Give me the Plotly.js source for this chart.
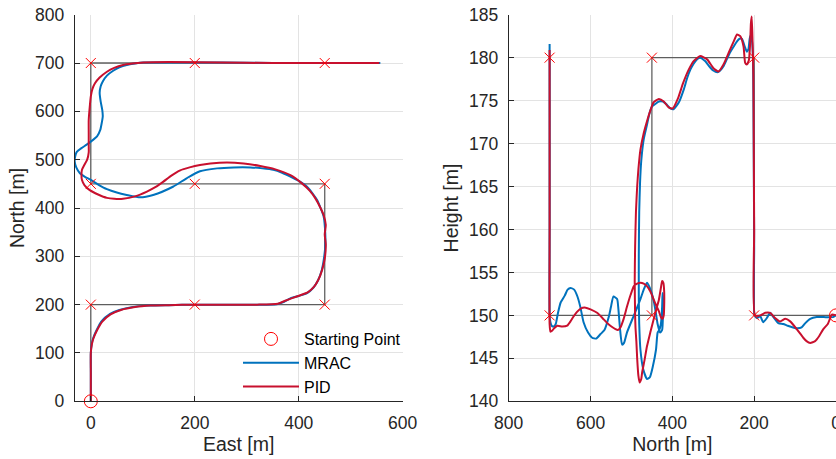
<!DOCTYPE html>
<html>
<head>
<meta charset="utf-8">
<script src="https://cdn.plot.ly/plotly-3.0.1.min.js"></script>
<style>html,body{margin:0;padding:0;background:#fff;}#chart{width:836px;height:459px;}</style>
</head>
<body>
<div id="chart"></div>
<script>
// ---------- Left panel: East vs North ----------
var refEast  = [0, 0, 450, 450, 0, 0, 450];
var refNorth = [0, 200, 200, 450, 450, 700, 700];
var wpEast   = [0, 200, 450, 450, 200, 0, 0, 200, 450];
var wpNorth  = [200, 200, 200, 450, 450, 450, 700, 700, 700];
var startEast = [0];
var startNorth = [0];

var mracEast = [0, 0, 0, 0, 2, 5, 11, 20, 37, 55, 81, 110, 150, 200, 260, 320, 358, 372, 384, 400,
  416, 428, 437, 444, 448, 451, 451, 448, 442, 435, 426, 416, 400, 384, 368, 351, 330, 307, 275, 243,
  210, 185, 158, 120, 95, 69, 50, 31, 15, 0, -12, -21, -28, -31, -30, -27, -18, -8, 3, 12,
  18, 21, 23, 22, 19, 17, 19, 23, 31, 43, 55, 69, 85, 101, 150, 250, 350, 450, 557];
var mracNorth = [0, 30, 60, 100, 120, 132, 147, 165, 181, 189, 195, 198, 199, 200, 200, 200, 201, 206, 213, 218,
  224, 235, 250, 270, 292, 320, 348, 382, 400, 417, 431, 444, 456, 465, 473, 479, 482, 484, 484, 482,
  476, 462, 444, 427, 422, 427, 432, 439, 448, 458, 465, 472, 484, 496, 507, 516, 524, 531, 540, 548,
  561, 576, 590, 603, 620, 638, 652, 662, 674, 684, 691, 696, 699, 701, 701, 701, 700, 700, 700];

var pidEast = [0, 0, 0, 0, 2, 5, 12, 22, 38, 58, 85, 115, 150, 200, 260, 320, 360, 374, 386, 402,
  418, 430, 438, 445, 450, 452, 450, 452, 448, 441, 432, 421, 405, 384, 355, 326, 294, 262, 230, 210,
  190, 172, 155, 139, 124, 108, 85, 62, 45, 31, 14, -2, -12, -17, -18, -17, -12, -7, -4, -4,
  -4, -4, -2, 0, 3, 8, 17, 31, 45, 62, 80, 101, 150, 250, 350, 450, 555];
var pidNorth = [0, 30, 60, 100, 118, 130, 147, 165, 180, 189, 195, 198, 199, 200, 200, 200, 202, 208, 213, 219,
  226, 238, 252, 272, 295, 325, 345, 365, 385, 402, 420, 436, 452, 468, 480, 487, 492, 494, 492, 489,
  484, 478, 467, 454, 443, 434, 424, 419, 419, 421, 428, 437, 447, 458, 469, 479, 490, 500, 515, 530,
  555, 582, 610, 631, 646, 658, 670, 682, 690, 696, 699, 701, 702, 701, 700, 700, 700];

// ---------- Right panel: North vs Height ----------
var refN = [0, 200, 200, 450, 450, 700, 700];
var refH = [150, 150, 180, 180, 150, 150, 180];
var wpN = [200, 200, 450, 450, 700, 700];
var wpH = [150, 180, 180, 150, 150, 180];
var startN = [0];
var startH = [150];

var mracN = [0, 7, 30, 47, 63, 75, 84, 95, 105, 118, 129, 141, 153, 161, 169, 178, 185, 193, 199, 200,
  201, 202, 203, 205, 208, 211, 214, 218, 223, 230, 236, 242, 250, 259, 267, 275, 283, 290, 300, 310,
  320, 332, 340, 348, 356, 364, 372, 384, 397, 405, 413, 423, 433, 442, 450, 456, 462, 470, 476, 479,
  481, 482, 482, 481, 478, 471, 462, 455, 448, 440, 436, 432, 428, 425, 424, 423, 423, 425, 430, 436,
  441, 446, 455, 462, 470, 478, 494, 511, 518, 523, 528, 532, 535, 544, 550, 555, 566, 576, 586, 596,
  606, 617, 625, 632, 640, 649, 656, 663, 673, 680, 685, 690, 695, 698, 700, 700, 700, 700];
var mracH = [150, 149.8, 149.8, 149.8, 149.6, 149.1, 148.6, 148.5, 148.6, 148.8, 149.0, 149.1, 149.8, 150.3, 149.7, 149.2, 149.9, 149.7, 150, 158,
  168, 176, 180, 181.8, 182.6, 182.2, 181, 180.7, 181.3, 182.2, 182.2, 181.9, 181.3, 180.6, 179.8, 179, 178.5, 178.3, 178.5, 179,
  179.6, 180, 179.8, 179.3, 178.6, 177.6, 176.3, 174.8, 174, 174.1, 174.5, 174.9, 174.9, 174.6, 174.3, 173.5, 172.2, 170.5, 168, 165.4,
  162, 157, 152, 149, 146, 143.7, 142.6, 142.8, 144, 146, 148, 148.3, 149, 151, 152.6, 152, 150, 148.3, 148, 149,
  150.5, 151.8, 153.2, 153.8, 153, 151.9, 150, 148, 146.8, 146.6, 148.5, 150.8, 151.9, 152.2, 151, 149.9, 148.3, 147.8, 147.3, 147.4,
  148, 149.2, 151, 152.2, 153, 153.2, 153, 152.3, 151.5, 150.2, 149, 148.7, 148.8, 149.2, 150, 160, 170, 181.6];

var pidN = [0, 10, 20, 31, 41, 51, 63, 72, 80, 96, 112, 124, 137, 149, 161, 173, 185, 198, 200, 201,
  202, 204, 206, 208, 210, 213, 218, 222, 226, 234, 242, 250, 262, 275, 287, 300, 315, 332, 348, 360,
  374, 386, 399, 409, 421, 433, 446, 454, 462, 470, 478, 483, 486, 489, 491, 492, 491, 490, 488, 486,
  483, 480, 476, 474, 468, 462, 454, 446, 440, 433, 428, 425, 422, 420, 420, 421, 424, 428, 433, 440,
  446, 454, 462, 470, 478, 486, 494, 502, 511, 519, 527, 533, 539, 549, 559, 571, 584, 600, 612, 624,
  633, 641, 649, 657, 669, 681, 689, 694, 698, 700, 700, 700, 700];
var pidH = [150, 150.1, 149, 148.4, 147.6, 147, 146.8, 147, 147.4, 148.4, 149.3, 149.6, 149.3, 149.7, 150.3, 150.3, 150, 150, 160, 170,
  178, 182, 184.8, 184, 181.5, 179.7, 179.2, 179.4, 181.3, 182.5, 182.7, 181.9, 180.6, 179.2, 178.4, 178.8, 179.8, 180.2, 179.6, 178.6,
  177, 175.3, 174.1, 174.2, 174.9, 175.2, 174.8, 173.8, 172.6, 171.2, 169.3, 167, 165, 162, 158, 154, 150, 148.5, 147, 145,
  143, 142.2, 142.6, 143.3, 144.8, 146.4, 148, 149.5, 150.6, 151.8, 153.2, 154, 153.8, 152.8, 151, 150, 149.6, 149.8, 150.5, 151.2,
  151.9, 152.8, 153.4, 153.7, 153.8, 153.7, 153.4, 152.4, 151, 149.6, 148.6, 148.3, 148.4, 148.7, 149.1, 149.7, 150.3, 150.7, 150.9, 150.8,
  150.4, 149.9, 149.3, 148.8, 148.7, 148.8, 148.5, 148.2, 148.1, 149, 160, 170, 180.9];

var C_MRAC = '#0072BD';
var C_PID = '#C8102E';
var C_REF = 'rgba(70,70,70,0.85)';
var C_WP = '#FF0000';

var traces = [
  {x: refEast, y: refNorth, xaxis: 'x', yaxis: 'y', mode: 'lines', line: {color: C_REF, width: 1.3}, showlegend: false, hoverinfo: 'skip'},
  {x: mracEast, y: mracNorth, xaxis: 'x', yaxis: 'y', mode: 'lines', name: 'MRAC', legendrank: 2, line: {color: C_MRAC, width: 2, shape: 'spline', smoothing: 0.6}},
  {x: pidEast, y: pidNorth, xaxis: 'x', yaxis: 'y', mode: 'lines', name: 'PID', legendrank: 3, line: {color: C_PID, width: 2, shape: 'spline', smoothing: 0.6}},
  {x: wpEast, y: wpNorth, xaxis: 'x', yaxis: 'y', mode: 'markers', showlegend: false, marker: {symbol: 'x-thin-open', size: 10, color: C_WP, line: {color: C_WP, width: 1}}},
  {x: startEast, y: startNorth, xaxis: 'x', yaxis: 'y', mode: 'markers', name: 'Starting Point', legendrank: 1, cliponaxis: false, marker: {symbol: 'circle-open', size: 13, color: C_WP, line: {color: C_WP, width: 1}}},

  {x: refN, y: refH, xaxis: 'x2', yaxis: 'y2', mode: 'lines', line: {color: C_REF, width: 1.3}, showlegend: false, hoverinfo: 'skip'},
  {x: mracN, y: mracH, xaxis: 'x2', yaxis: 'y2', mode: 'lines', showlegend: false, line: {color: C_MRAC, width: 2, shape: 'spline', smoothing: 0.5}},
  {x: pidN, y: pidH, xaxis: 'x2', yaxis: 'y2', mode: 'lines', showlegend: false, line: {color: C_PID, width: 2, shape: 'spline', smoothing: 0.5}},
  {x: wpN, y: wpH, xaxis: 'x2', yaxis: 'y2', mode: 'markers', showlegend: false, marker: {symbol: 'x-thin-open', size: 10, color: C_WP, line: {color: C_WP, width: 1}}},
  {x: startN, y: startH, xaxis: 'x2', yaxis: 'y2', mode: 'markers', showlegend: false, cliponaxis: false, marker: {symbol: 'circle-open', size: 13, color: C_WP, line: {color: C_WP, width: 1}}}
];

var FONT = 'Liberation Sans, Arial, Helvetica, sans-serif';
var TC = '#262626';
function axisBase(extra) {
  var a = {
    showline: true, linecolor: TC, linewidth: 1, mirror: false,
    ticks: 'inside', ticklen: 5, tickcolor: TC, tickwidth: 1,
    showgrid: true, gridcolor: '#E3E3E3', gridwidth: 1, zeroline: false,
    tickfont: {family: FONT, size: 17.5, color: TC},
    ticklabelstandoff: 6, ticklabeloverflow: 'allow', automargin: false
  };
  for (var k in extra) a[k] = extra[k];
  return a;
}

var layout = {
  width: 836, height: 459,
  margin: {l: 0, r: 0, t: 0, b: 0},
  paper_bgcolor: '#FFFFFF', plot_bgcolor: '#FFFFFF',
  font: {family: FONT, color: TC},
  showlegend: true,
  legend: {x: 238 / 836, y: (459 - 404) / 459, xanchor: 'left', yanchor: 'bottom',
    bgcolor: 'rgba(0,0,0,0)', borderwidth: 0, itemwidth: 56,
    font: {family: FONT, size: 16, color: '#000'}, tracegroupgap: 0},
  xaxis: axisBase({domain: [74.7 / 836, 402.7 / 836], range: [-31, 600], tickvals: [0, 200, 400, 600],
    anchor: 'y', title: {text: 'East [m]', font: {family: FONT, size: 19.5, color: TC}, standoff: 4}}),
  yaxis: axisBase({domain: [(459 - 401.3) / 459, (459 - 14.7) / 459], range: [0, 800], tickvals: [0, 100, 200, 300, 400, 500, 600, 700, 800],
    anchor: 'x', title: {text: 'North [m]', font: {family: FONT, size: 19.5, color: TC}, standoff: 5}}),
  xaxis2: axisBase({domain: [508.7 / 836, 1], range: [800, 0], tickvals: [800, 600, 400, 200, 0],
    anchor: 'y2', title: {text: 'North [m]', font: {family: FONT, size: 19.5, color: TC}, standoff: 4}}),
  yaxis2: axisBase({domain: [(459 - 401.3) / 459, (459 - 14.7) / 459], range: [140, 185], tickvals: [140, 145, 150, 155, 160, 165, 170, 175, 180, 185],
    anchor: 'x2', title: {text: 'Height [m]', font: {family: FONT, size: 19.5, color: TC}, standoff: 5}})
};

Plotly.newPlot('chart', traces, layout, {staticPlot: true, displayModeBar: false});
</script>
</body>
</html>
